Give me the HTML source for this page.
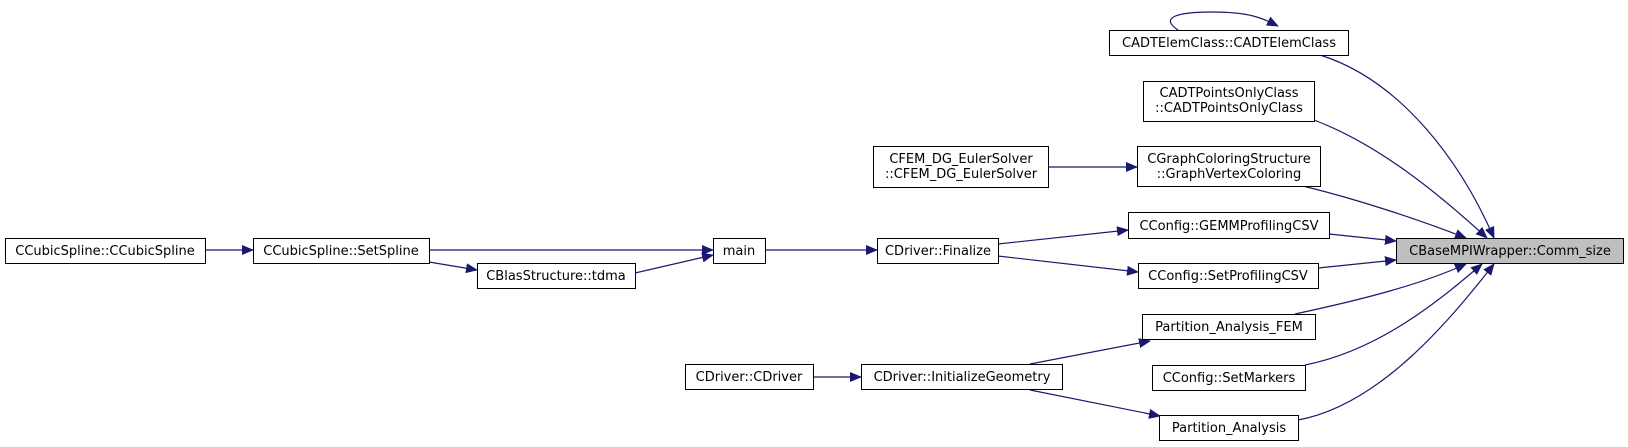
<!DOCTYPE html>
<html><head><meta charset="utf-8"><style>
html,body{margin:0;padding:0;background:#fff;}
svg{display:block;}
text{font-family:"DejaVu Sans","Liberation Sans",sans-serif;font-size:13px;fill:#000;}
</style></head><body>
<svg width="1628" height="447" viewBox="0 0 1628 447" xmlns="http://www.w3.org/2000/svg">
<defs><marker id="a" markerWidth="12" markerHeight="10" refX="11" refY="5" orient="auto" markerUnits="userSpaceOnUse"><path d="M0,0 L12,5 L0,10 z" fill="#191970"/></marker></defs>
<g fill="none" stroke="#191970" stroke-width="1.2" marker-end="url(#a)">
<path d="M205,250 L253,250"/>
<path d="M429,250 L713,250"/>
<path d="M429,262 L477,270"/>
<path d="M635,273 L713,255"/>
<path d="M765,250 L877,250"/>
<path d="M998,244 L1128,230"/>
<path d="M998,256 L1138,272"/>
<path d="M1048,167 L1137,167"/>
<path d="M813,377 L861,377"/>
<path d="M1030,364 L1150,341"/>
<path d="M1030,390 L1160,416"/>
<path d="M1178,30 C1160,18 1175,12 1212,12 C1250,12 1262,18 1278,26"/>
<path d="M1320,55 C1400,80 1460,160 1494,238"/>
<path d="M1314,120 C1380,145 1440,195 1487,238"/>
<path d="M1303,186 C1360,200 1420,220 1466,238"/>
<path d="M1329,234 L1396,241"/>
<path d="M1318,268 L1396,260"/>
<path d="M1295,314 C1360,300 1420,285 1466,264"/>
<path d="M1305,365 C1380,350 1440,300 1482,264"/>
<path d="M1298,420 C1380,405 1450,320 1494,264"/>
</g>
<g stroke="#000" stroke-width="1" fill="#fff">
<rect x="5.5" y="238.5" width="200" height="25"/>
<rect x="253.5" y="238.5" width="176" height="25"/>
<rect x="477.5" y="263.5" width="158" height="25"/>
<rect x="713.5" y="238.5" width="52" height="25"/>
<rect x="877.5" y="238.5" width="121" height="25"/>
<rect x="873.5" y="146.5" width="175" height="41"/>
<rect x="685.5" y="364.5" width="128" height="25"/>
<rect x="861.5" y="364.5" width="201" height="25"/>
<rect x="1109.5" y="30.5" width="239" height="25"/>
<rect x="1143.5" y="81.5" width="171" height="40"/>
<rect x="1137.5" y="146.5" width="183" height="40"/>
<rect x="1128.5" y="212.5" width="201" height="26"/>
<rect x="1138.5" y="263.5" width="180" height="25"/>
<rect x="1142.5" y="314.5" width="173" height="25"/>
<rect x="1152.5" y="365.5" width="153" height="25"/>
<rect x="1159.5" y="415.5" width="139" height="25"/>
<rect x="1396.5" y="238.5" width="227" height="25" fill="#bfbfbf"/>
</g>
<g text-anchor="middle">
<text x="105" y="255">CCubicSpline::CCubicSpline</text>
<text x="341" y="255">CCubicSpline::SetSpline</text>
<text x="556" y="280">CBlasStructure::tdma</text>
<text x="739" y="255">main</text>
<text x="938" y="255">CDriver::Finalize</text>
<text x="961" y="163">CFEM_DG_EulerSolver</text>
<text x="961" y="178">::CFEM_DG_EulerSolver</text>
<text x="749" y="381">CDriver::CDriver</text>
<text x="962" y="381">CDriver::InitializeGeometry</text>
<text x="1229" y="47">CADTElemClass::CADTElemClass</text>
<text x="1229" y="97">CADTPointsOnlyClass</text>
<text x="1229" y="112">::CADTPointsOnlyClass</text>
<text x="1229" y="163">CGraphColoringStructure</text>
<text x="1229" y="178">::GraphVertexColoring</text>
<text x="1229" y="230">CConfig::GEMMProfilingCSV</text>
<text x="1228" y="280">CConfig::SetProfilingCSV</text>
<text x="1229" y="331">Partition_Analysis_FEM</text>
<text x="1229" y="382">CConfig::SetMarkers</text>
<text x="1229" y="432">Partition_Analysis</text>
<text x="1510" y="255">CBaseMPIWrapper::Comm_size</text>
</g>
</svg>
</body></html>
